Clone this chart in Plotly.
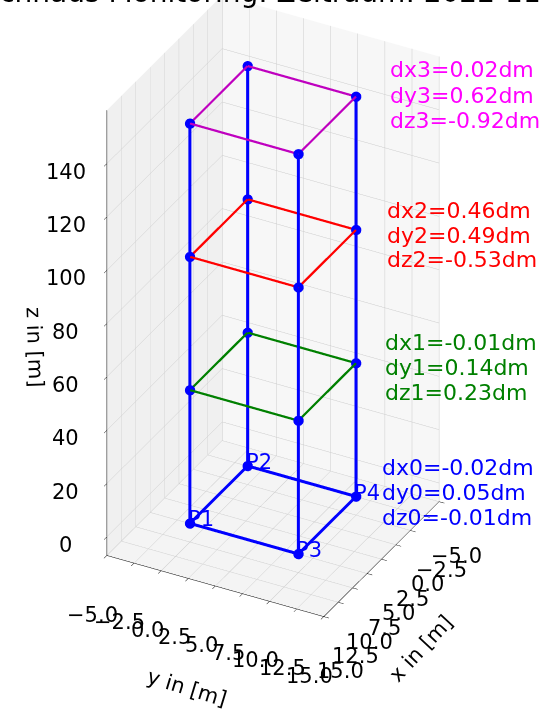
import math
import plotly.graph_objects as go

# ---- data ----
corner_names = ["P1", "P2", "P3", "P4"]
corner_x = [10, 0, 10, 0]
corner_y = [0, 0, 10, 10]
level_z = [0, 50, 100, 150]
level_colors = ["#0000ff", "#008000", "#ff0000", "#bf00bf"]
text_colors = ["#0000ff", "#008000", "#ff0000", "#ff00ff"]
ring_order = [0, 2, 3, 1, 0]
dx = [-0.02, -0.01, 0.46, 0.02]
dy = [0.05, 0.14, 0.49, 0.62]
dz = [-0.01, 0.23, -0.53, -0.92]
xy_ticks = [-5.0, -2.5, 0.0, 2.5, 5.0, 7.5, 10.0, 12.5, 15.0]
z_ticks = [0, 20, 40, 60, 80, 100, 120, 140]
title_text = "Hochhaus Monitoring: Zeitraum: 2022-11-01"

XR = [-5, 15]
YR = [-5, 15]
ZR = [-7, 160]

FONT = "DejaVu Sans"
TS = 21
fig = go.Figure()

# rings
for k, z in enumerate(level_z):
    fig.add_trace(go.Scatter3d(
        x=[corner_x[i] for i in ring_order],
        y=[corner_y[i] for i in ring_order],
        z=[z] * len(ring_order),
        mode="lines",
        line=dict(color=level_colors[k], width=6 if k == 0 else 4.5),
        hoverinfo="skip", showlegend=False))

# vertical lines with markers
for i in range(4):
    fig.add_trace(go.Scatter3d(
        x=[corner_x[i]] * len(level_z),
        y=[corner_y[i]] * len(level_z),
        z=level_z,
        mode="lines+markers",
        line=dict(color="#0000ff", width=6),
        marker=dict(color="#0000ff", size=6),
        hoverinfo="skip", showlegend=False))

def fmt(v):
    return f"{v:.1f}".replace("-", "\u2212")

scene_ann = []
# point labels
for i in range(4):
    scene_ann.append(dict(x=corner_x[i], y=corner_y[i], z=level_z[0], text=corner_names[i],
                          showarrow=False, xanchor="left", yanchor="middle",
                          xshift=-4, yshift=4,
                          font=dict(color="#0000ff", size=TS, family=FONT)))
# tick labels (horizontal, like matplotlib)
for t in xy_ticks:
    scene_ann.append(dict(x=XR[1], y=t, z=ZR[0], text=fmt(t), showarrow=False,
                          xanchor="center", yanchor="middle", xshift=-14, yshift=-59,
                          font=dict(color="black", size=TS, family=FONT)))
    scene_ann.append(dict(x=t, y=YR[1], z=ZR[0], text=fmt(t), showarrow=False,
                          xanchor="center", yanchor="middle", xshift=17, yshift=-54,
                          font=dict(color="black", size=TS, family=FONT)))
for t in z_ticks:
    scene_ann.append(dict(x=XR[1], y=YR[0], z=t, text=str(t), showarrow=False,
                          xanchor="center", yanchor="middle", xshift=-41, yshift=-8,
                          font=dict(color="black", size=TS, family=FONT)))
# axis titles
scene_ann.append(dict(x=XR[1], y=(YR[0] + YR[1]) / 2, z=ZR[0], text="y in [m]", showarrow=False,
                      xanchor="center", yanchor="middle", xshift=-28, yshift=-102, textangle=17,
                      font=dict(color="black", size=TS, family=FONT)))
scene_ann.append(dict(x=(XR[0] + XR[1]) / 2, y=YR[1], z=ZR[0], text="x in [m]", showarrow=False,
                      xanchor="center", yanchor="middle", xshift=40, yshift=-89, textangle=-47,
                      font=dict(color="black", size=TS, family=FONT)))
scene_ann.append(dict(x=XR[1], y=YR[0], z=75, text="z in [m]", showarrow=False,
                      xanchor="center", yanchor="middle", xshift=-72, yshift=-10, textangle=88,
                      font=dict(color="black", size=TS, family=FONT)))

# delta annotations (one per line)
ann_pos = [(380, 467), (383, 342), (385, 210), (388, 70)]
line_gap = 25
annotations = []
for k in range(4):
    lines = [f"dx{k}={dx[k]:.2f}dm", f"dy{k}={dy[k]:.2f}dm", f"dz{k}={dz[k]:.2f}dm"]
    px, py = ann_pos[k]
    for j, ln in enumerate(lines):
        annotations.append(dict(
            text=ln, xref="paper", yref="paper", x=px / 547, y=1 - (py + j * line_gap) / 710,
            xanchor="left", yanchor="middle", align="left", showarrow=False,
            font=dict(color=text_colors[k], size=22, family=FONT)))
# title (partly outside the top edge, as in the reference)
annotations.append(dict(text=title_text, xref="paper", yref="paper", x=0.5, y=1.0,
                        xanchor="center", yanchor="bottom", yshift=-11, showarrow=False,
                        font=dict(size=28, family=FONT, color="black")))

def axis(rng, ticks, bg):
    return dict(
        title=dict(text=""),
        range=rng, tickvals=ticks, showticklabels=False,
        showbackground=True, backgroundcolor=bg,
        gridcolor="#cccccc", gridwidth=1,
        showline=True, linecolor="black", linewidth=1,
        ticks="outside", tickcolor="black", ticklen=6,
        zeroline=False, showspikes=False, autorange=False)

H = 710.0
kpx = H / 2  # pixels per normalized unit in orthographic mode
phi = math.radians(28)
elev = math.radians(32)
r = 3.0
R = (-math.sin(phi), math.cos(phi), 0.0)
U = (-math.sin(elev) * math.cos(phi), -math.sin(elev) * math.sin(phi), math.cos(elev))
sx, sy = 0.5, -49.0  # screen offset (px) of camera centre from box centre
c = [(sx * R[i] + sy * U[i]) / kpx for i in range(3)]
d = (math.cos(elev) * math.cos(phi), math.cos(elev) * math.sin(phi), math.sin(elev))
eye = dict(x=c[0] + r * d[0], y=c[1] + r * d[1], z=c[2] + r * d[2])
center = dict(x=c[0], y=c[1], z=c[2])

fig.update_layout(
    width=547, height=710,
    margin=dict(l=0, r=0, t=0, b=0),
    paper_bgcolor="white",
    font=dict(family=FONT, color="black"),
    scene=dict(
        domain=dict(x=[0, 1], y=[0, 1]),
        xaxis=axis(XR, xy_ticks, "#f7f7f7"),
        yaxis=axis(YR, xy_ticks, "#f0f0f0"),
        zaxis=axis(ZR, z_ticks, "#f4f4f4"),
        aspectmode="manual", aspectratio=dict(x=0.692, y=0.692, z=1.479),
        camera=dict(eye=eye, center=center, up=dict(x=0, y=0, z=1),
                    projection=dict(type="orthographic")),
        annotations=scene_ann,
    ),
    annotations=annotations,
)

fig.write_html("out.html")
